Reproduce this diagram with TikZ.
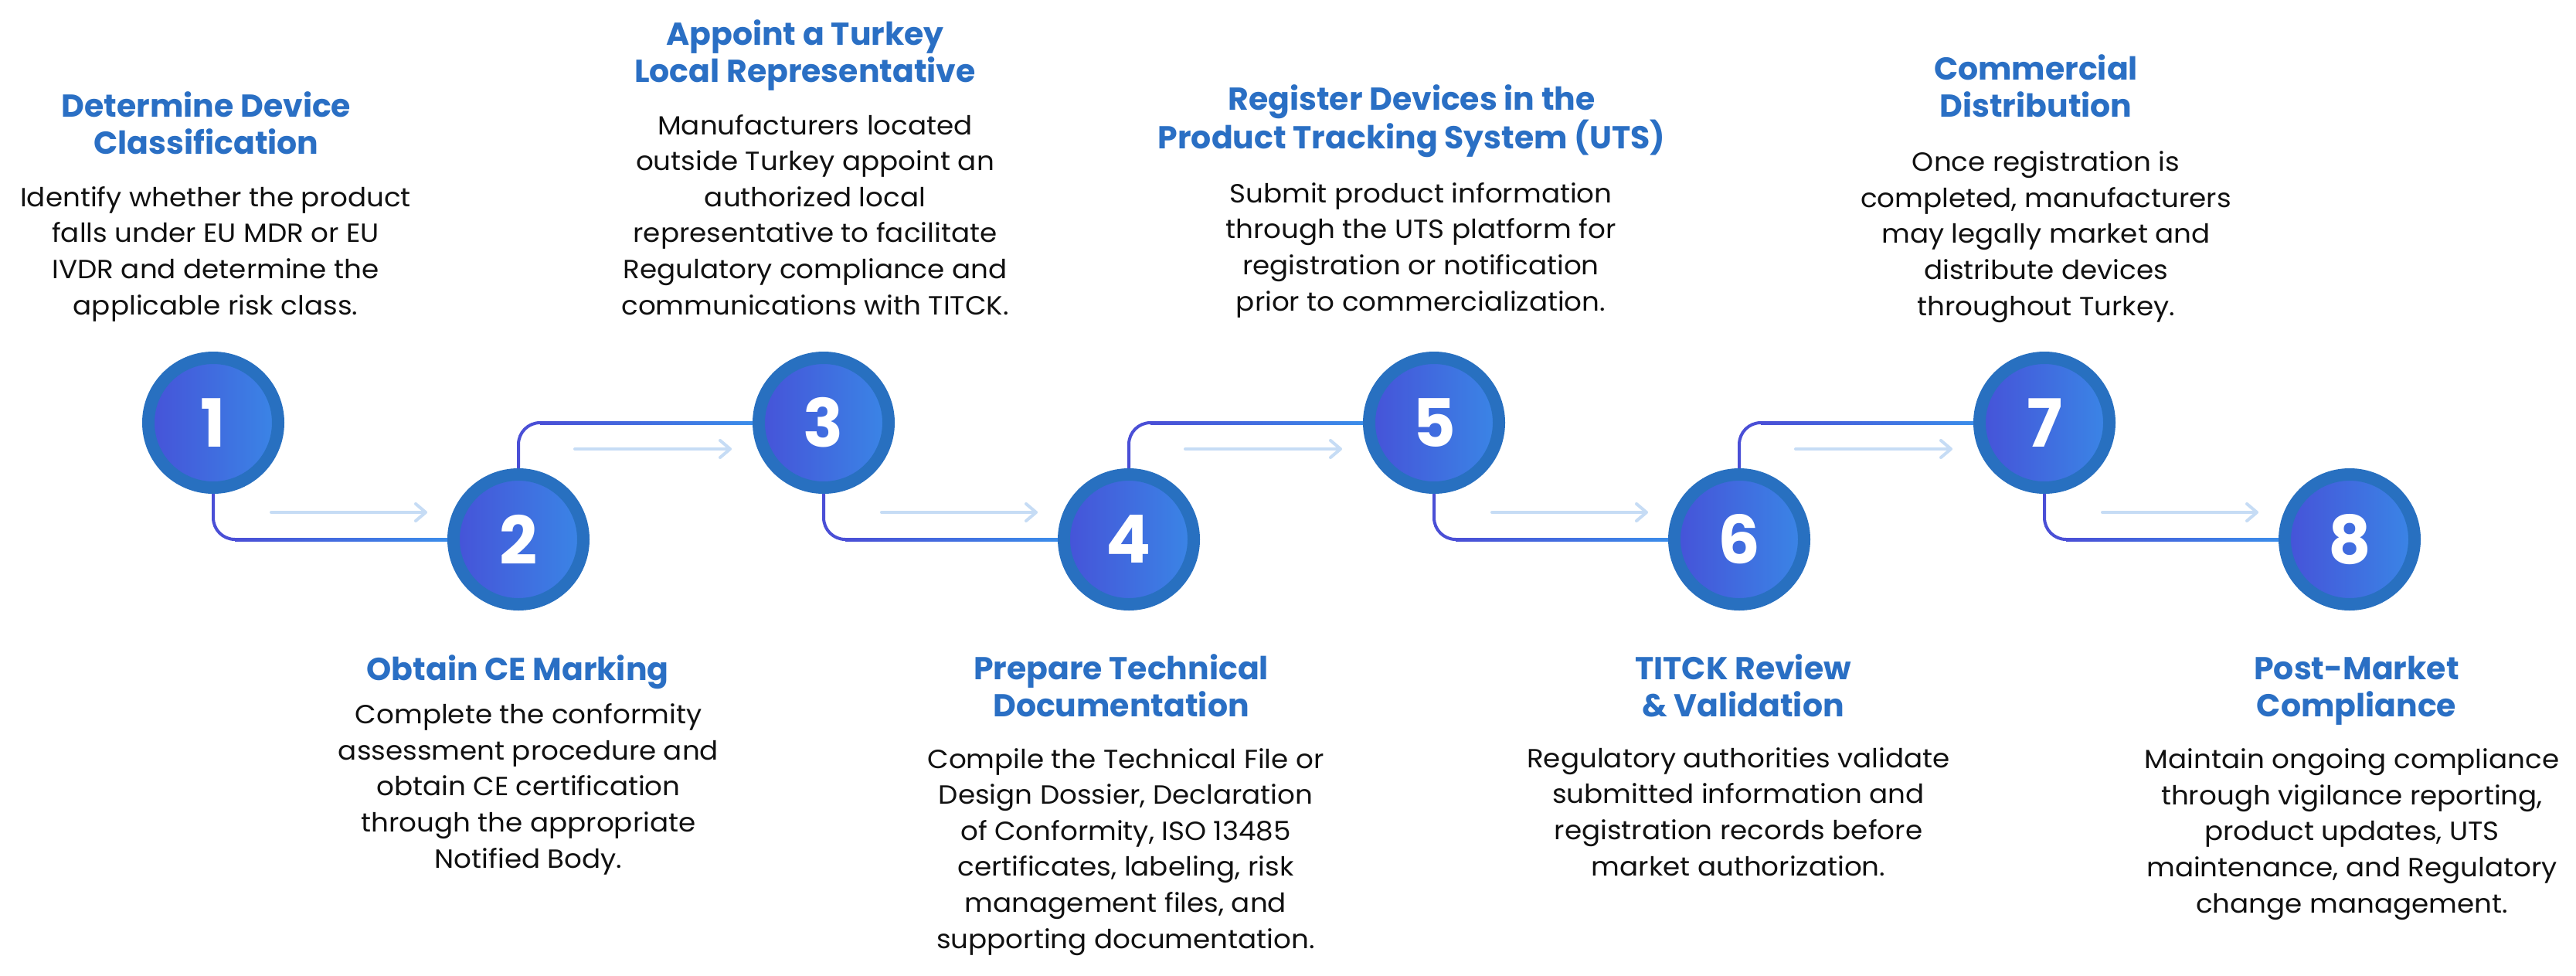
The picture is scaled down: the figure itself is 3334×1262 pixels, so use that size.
\documentclass[tikz,border=0pt]{standalone}
\usepackage{fontspec}
\setmainfont{Poppins}
\newfontfamily\bodyfont{Poppins}[FakeStretch=1.05]
\usetikzlibrary{arrows.meta,calc}
\definecolor{ringc}{HTML}{2870C0}
\definecolor{gl}{HTML}{4652D8}
\definecolor{gr}{HTML}{3A86E6}
\definecolor{cl}{HTML}{4A4FD6}
\definecolor{cr}{HTML}{3B8DEA}
\definecolor{ttlc}{HTML}{2A6FC4}
\definecolor{litec}{HTML}{C6DCF5}
\definecolor{bodyc}{HTML}{111111}
\begin{document}
\begin{tikzpicture}[x=1pt,y=-1pt,
 stepc/.style={circle, draw=ringc, line width=16pt, minimum size=168pt, inner sep=0pt, outer sep=8pt, left color=gl, right color=gr, text=white, font=\fontsize{86}{86}\selectfont\bfseries},
 ttlt/.style={align=center, anchor=base, inner sep=0pt, text=ttlc, font=\fontsize{41}{47.5}\selectfont\bfseries},
 bodyt/.style={align=center, anchor=base, inner sep=0pt, text=bodyc, font=\bodyfont\fontsize{34}{46.6}\selectfont},
 conn/.style={draw=cl, line width=4pt, rounded corners=28pt},
 litearrow/.style={draw=litec, line width=4pt, line cap=round, -{Straight Barb[length=13pt,width=22pt,round]}}
]
\useasboundingbox[fill=white] (0,0) rectangle (3334,1262);

% circles
\node[stepc] (c1) at (276,547) {1};
\node[stepc] (c2) at (671,698) {2};
\node[stepc] (c3) at (1066,547) {3};
\node[stepc] (c4) at (1461,698) {4};
\node[stepc] (c5) at (1856,547) {5};
\node[stepc] (c6) at (2251,698) {6};
\node[stepc] (c7) at (2646,547) {7};
\node[stepc] (c8) at (3041,698) {8};

% connectors
\foreach \a/\b in {c1/c2,c3/c4,c5/c6,c7/c8}{
  \draw[conn] (\a.south) |- (\b.west);
  \shade[left color=cl, right color=cr] ($(\a.south |- \b.west)+(28,-2)$) rectangle ($(\b.west)+(0,2)$);
  \coordinate (\a-as) at ($(\a)+(75,116)$);
  \coordinate (\a-ae) at ($(\a)+(277,116)$);
  \draw[litearrow] (\a-as) -- (\a-ae);
}
\foreach \a/\b in {c2/c3,c4/c5,c6/c7}{
  \draw[conn] (\a.north) |- (\b.west);
  \shade[left color=cl, right color=cr] ($(\a.north |- \b.west)+(28,-2)$) rectangle ($(\b.west)+(0,2)$);
  \coordinate (\a-as) at ($(\a)+(73,-117)$);
  \coordinate (\a-ae) at ($(\a)+(276,-117)$);
  \draw[litearrow] (\a-as) -- (\a-ae);
}

% texts (anchor = baseline of the last line)
\node[ttlt] (t1) at (267,199) {Determine Device\\Classification};
\node[bodyt] (b1) at (279,407) {Identify whether the product\\falls under EU MDR or EU\\IVDR and determine the\\applicable risk class.};

\node[ttlt] (t2) at (670,880) {Obtain CE Marking};
\node[bodyt] (b2) at (684,1123) {Complete the conformity\\assessment procedure and\\obtain CE certification\\through the appropriate\\Notified Body.};

\node[ttlt] (t3) at (1042,106) {Appoint a Turkey\\Local Representative};
\node[bodyt] (b3) at (1055,407) {Manufacturers located\\outside Turkey appoint an\\authorized local\\representative to facilitate\\Regulatory compliance and\\communications with TITCK.};

\node[ttlt] (t4) at (1451,927) {Prepare Technical\\Documentation};
\node[bodyt] (b4) at (1457,1227) {Compile the Technical File or\\Design Dossier, Declaration\\of Conformity, ISO 13485\\certificates, labeling, risk\\management files, and\\supporting documentation.};

\node[ttlt] (t5) at (1827,192) {Register Devices in the\\Product Tracking System (UTS)};
\node[bodyt] (b5) at (1839,402) {Submit product information\\through the UTS platform for\\registration or notification\\prior to commercialization.};

\node[ttlt] (t6) at (2256,927) {TITCK Review\\\& Validation};
\node[bodyt] (b6) at (2250,1133) {Regulatory authorities validate\\submitted information and\\registration records before\\market authorization.};

\node[ttlt] (t7) at (2635,151) {Commercial\\Distribution};
\node[bodyt] (b7) at (2648,408) {Once registration is\\completed, manufacturers\\may legally market and\\distribute devices\\throughout Turkey.};

\node[ttlt] (t8) at (3050,927) {Post-Market\\Compliance};
\node[bodyt] (b8) at (3044,1181) {Maintain ongoing compliance\\through vigilance reporting,\\product updates, UTS\\maintenance, and Regulatory\\change management.};
\end{tikzpicture}
\end{document}
